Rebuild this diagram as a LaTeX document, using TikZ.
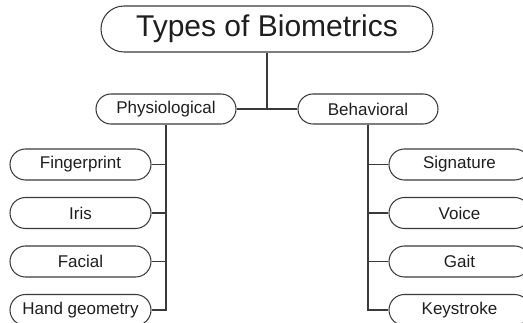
\documentclass[tikz,border=0pt]{standalone}
\usepackage{fontspec}
\setmainfont{Liberation Sans}
\usetikzlibrary{shapes.misc}
\definecolor{ink}{HTML}{3A3A3A}
\definecolor{txt}{HTML}{1E1E1E}
\begin{document}
\begin{tikzpicture}[x=1pt,y=-1pt,
  pill/.style={rounded rectangle, draw=ink, line width=1.05pt, inner sep=0pt,
    text=txt, minimum width=141pt, minimum height=31pt, font=\fontsize{17}{19}\selectfont},
  title/.style={pill, minimum width=332pt, minimum height=46pt, font=\fontsize{30}{34}\selectfont},
  mid/.style={pill, minimum width=140pt, minimum height=30pt},
  link/.style={draw=ink, line width=1.05pt}]
\useasboundingbox (0,0) rectangle (523,323);
% root and the two groups
\node[title] (root) at (267,29) {Types of Biometrics};
\node[mid] (phys) at (166,109) {Physiological};
\node[mid] (behav) at (368,109) {Behavioral};
% physiological traits
\node[pill] (finger) at (80.5,164.5) {Fingerprint};
\node[pill] (iris) at (80.5,213) {Iris};
\node[pill] (face) at (80.5,261.5) {Facial};
\node[pill] (hand) at (80.5,310) {Hand geometry};
% behavioral traits
\node[pill] (sign) at (459.5,164.5) {Signature};
\node[pill] (voice) at (459.5,213) {Voice};
\node[pill] (gait) at (459.5,261.5) {Gait};
\node[pill] (key) at (459.5,310) {Keystroke};
% trunk
\coordinate (hub) at (root.south |- phys.east);
\draw[link] (root.south) -- (hub);
\draw[link] (phys.east) -- (behav.west);
% left spine and branches
\draw[link] (phys.south) -- (phys.south |- hand.east) -- (hand.east);
\foreach \n in {finger,iris,face}
  \draw[link] (\n.east) -- (phys.south |- \n.east);
% right spine and branches
\draw[link] (behav.south) -- (behav.south |- key.west) -- (key.west);
\foreach \n in {sign,voice,gait}
  \draw[link] (\n.west) -- (behav.south |- \n.west);
\end{tikzpicture}
\end{document}
